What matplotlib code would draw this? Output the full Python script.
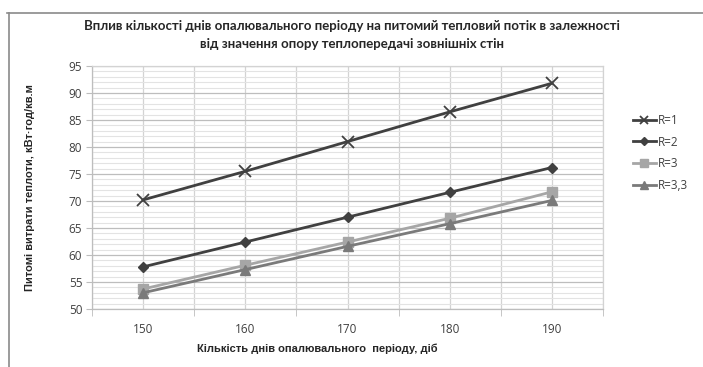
import matplotlib
matplotlib.use("Agg")
import matplotlib.pyplot as plt
from matplotlib.ticker import MultipleLocator
from matplotlib.lines import Line2D

days = ["150", "160", "170", "180", "190"]
r1 = [70.2, 75.5, 81.0, 86.5, 91.8]
r2 = [57.8, 62.4, 67.0, 71.6, 76.2]
r3 = [53.7, 58.1, 62.4, 66.8, 71.7]
r33 = [53.0, 57.3, 61.6, 65.8, 70.1]
labels = ["R=1", "R=2", "R=3", "R=3,3"]

title = ("Вплив кількості днів опалювального періоду на питомий тепловий потік в залежності\n"
         "від значення опору теплопередачі зовнішніх стін")
ylabel = "Питомі витрати теплоти, кВт·год/кв.м"
xlabel = "Кількість днів опалювального  періоду, діб"

plt.rcParams['font.family'] = ['Liberation Sans', 'DejaVu Sans']
TICKFONT = ['Open Sans', 'Liberation Sans', 'DejaVu Sans']
TITLEFONT = ['Lato', 'Liberation Sans', 'DejaVu Sans']

fig = plt.figure(figsize=(7.03, 3.67), dpi=100)
ax = fig.add_axes([92/703, 1-309/367, (603-92)/703, (309-66)/367])

styles = [
    dict(color="#404040", marker="x", markersize=8, markeredgewidth=1.3, lw=2.0),
    dict(color="#404040", marker="D", markersize=5.5, lw=2.0),
    dict(color="#a6a6a6", marker="s", markersize=7, lw=2.0),
    dict(color="#7a7a7a", marker="^", markersize=7.5, lw=2.0),
]
for vals, lab, st in zip([r1, r2, r3, r33], labels, styles):
    ax.plot(days, vals, label=lab, zorder=3, **st)

ax.set_xlim(-0.5, len(days) - 0.5)
ax.set_ylim(50, 95)
ax.yaxis.set_major_locator(MultipleLocator(5))
ax.yaxis.set_minor_locator(MultipleLocator(1))
ax.set_xticks(range(len(days)), days)
ax.set_xticks([i + 0.5 for i in range(-1, len(days))], minor=True)

ax.grid(which="major", axis="y", color="#bdbdbd", lw=0.9, zorder=0)
ax.grid(which="minor", axis="y", color="#e3e3e3", lw=0.8, zorder=0)
ax.grid(which="both", axis="x", color="#d3d3d3", lw=0.9, zorder=0)

for s in ax.spines.values():
    s.set_color("#d3d3d3")
    s.set_linewidth(0.9)
ax.spines["left"].set_color("#bdbdbd")
ax.spines["bottom"].set_color("#bdbdbd")

ax.tick_params(axis="y", which="major", length=4, color="#bdbdbd",
               labelcolor="#404040", pad=3)
ax.tick_params(axis="y", which="minor", length=0)
ax.tick_params(axis="x", which="major", length=0, labelcolor="#404040", pad=10)
ax.tick_params(axis="x", which="minor", length=5, color="#bdbdbd")
for t in ax.get_xticklabels() + ax.get_yticklabels():
    t.set_fontfamily(TICKFONT)
    t.set_fontsize(8.5)

fig.text(352/703, 1-35/367, title, ha="center", va="center", fontsize=9.5,
         fontweight="bold", color="#262626", linespacing=1.55, fontfamily=TITLEFONT)
fig.text(30/703, 1-188/367, ylabel, ha="center", va="center", rotation=90,
         fontsize=8, fontweight="bold", color="#262626")
fig.text(317/703, 1-349/367, xlabel, ha="center", va="center",
         fontsize=8, fontweight="bold", color="#262626")

leg = ax.legend(loc="center left", bbox_to_anchor=(622/703, 1-153/367),
                bbox_transform=fig.transFigure, frameon=False, handlelength=2.0,
                handletextpad=0.1, labelspacing=0.75, numpoints=1,
                markerscale=0.8, prop={'family': TICKFONT, 'size': 8.5})
for t in leg.get_texts():
    t.set_color("#404040")

# chart frame (cut at right and bottom)
fig.add_artist(Line2D([7/703, 1], [1-13/367, 1-13/367], transform=fig.transFigure,
                      color="#8a8a8a", lw=1.2))
fig.add_artist(Line2D([9/703, 9/703], [0, 1-13/367], transform=fig.transFigure,
                      color="#8a8a8a", lw=1.2))

fig.savefig("out.png", dpi=100)
